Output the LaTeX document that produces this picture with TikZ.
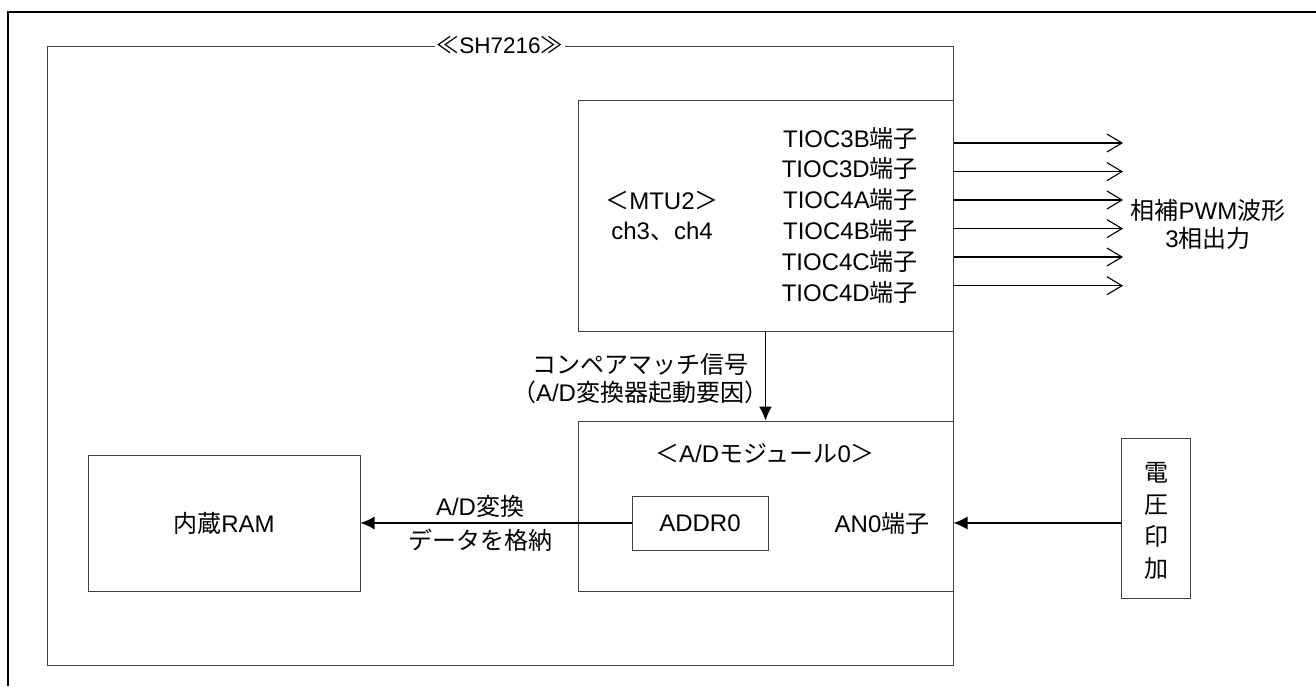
\documentclass[tikz,border=0pt]{standalone}
\usepackage{fontspec}
\setmainfont{Liberation Sans}
\newfontfamily\jp{Noto Sans CJK JP}
\usetikzlibrary{arrows.meta, positioning, calc}
\tikzset{
	frame_line/.style={draw=black, line width=1.8pt},
	blk/.style={rectangle, draw=black!75, line width=1pt, inner sep=0pt},
	lbl/.style={inner sep=0pt, font=\fontsize{24}{28}\selectfont},
	pin_lbl/.style={lbl, anchor=east},
	sig_arrow/.style={-{Latex[length=14pt, width=13pt]}, draw=black, line width=1.2pt},
	pwm_arrow/.style={-{Straight Barb[length=15pt, width=18pt]}, draw=black, line width=1.1pt}
}

\begin{document}
\begin{tikzpicture}[x=1pt, y=-1pt]
	\useasboundingbox (0,0) rectangle (1316,686);
	% outer frame
	\draw[frame_line] (8,686) -- (8,12) -- (1316,12);
	% chip and modules
	\node[blk, minimum width=906pt, minimum height=619pt] (sh) at (500,355.5) {};
	\node[lbl, fill=white, inner xsep=2pt, font=\fontsize{22.5}{28}\selectfont] (sh_title) at (sh.north) {{\jp ≪}SH7216{\jp ≫}};
	\node[blk, minimum width=375pt, minimum height=231pt] (mtu) at (765.5,215.5) {};
	\node[blk, minimum width=375pt, minimum height=170pt] (ad) at (765.5,506) {};
	\node[blk, minimum width=136pt, minimum height=54pt] (addr) at (700,523) {};
	\node[lbl] at (addr) {ADDR0};
	\node[blk, minimum width=272pt, minimum height=136pt] (ram) at (224,523) {};
	\node[lbl] at (ram) {{\jp 内蔵}RAM};
	\node[blk, minimum width=69pt, minimum height=160pt] (volt) at (1156,518) {};
	\node[lbl, align=center, font=\jp\fontsize{24}{32}\selectfont] at (1156,521) {電\\圧\\印\\加};
	% module texts
	\node[lbl, align=center, font=\fontsize{24}{30}\selectfont] (mtu_name) at (662,216) {{\jp ＜}MTU2{\jp ＞}\\ch3{\jp 、}ch4};
	\node[lbl] (ad_name) at (765,453) {{\jp ＜}A/D{\jp モジュール}0{\jp ＞}};
	\node[lbl] (an0) at (882,523) {AN0{\jp 端子}};
	\node[pin_lbl] (p3b) at (918,138) {TIOC3B{\jp 端子}};
	\node[pin_lbl] (p3d) at (918,168.5) {TIOC3D{\jp 端子}};
	\node[pin_lbl] (p4a) at (918,199.5) {TIOC4A{\jp 端子}};
	\node[pin_lbl] (p4b) at (918,230) {TIOC4B{\jp 端子}};
	\node[pin_lbl] (p4c) at (918,261) {TIOC4C{\jp 端子}};
	\node[pin_lbl] (p4d) at (918,292) {TIOC4D{\jp 端子}};
	% PWM outputs
	\coordinate (o3b) at (1123,143);
	\coordinate (o3d) at (1123,171.6);
	\coordinate (o4a) at (1123,200);
	\coordinate (o4b) at (1123,228.6);
	\coordinate (o4c) at (1123,257);
	\coordinate (o4d) at (1123,285.7);
	\draw[pwm_arrow] (mtu.east |- o3b) -- (o3b);
	\draw[pwm_arrow] (mtu.east |- o3d) -- (o3d);
	\draw[pwm_arrow] (mtu.east |- o4a) -- (o4a);
	\draw[pwm_arrow] (mtu.east |- o4b) -- (o4b);
	\draw[pwm_arrow] (mtu.east |- o4c) -- (o4c);
	\draw[pwm_arrow] (mtu.east |- o4d) -- (o4d);
	\node[lbl, align=center] (pwm_out) at (1208,224) {{\jp 相補}PWM{\jp 波形}\\3{\jp 相出力}};
	% signals
	\draw[sig_arrow] (mtu.south) -- (ad.north);
	\node[lbl, align=center, font=\jp\fontsize{24}{28}\selectfont] (cmp) at (640,379) {コンペアマッチ信号\\（{\rmfamily\fontspec{Liberation Sans}A/D}変換器起動要因）};
	\draw[sig_arrow] (addr.west) -- (ram.east);
	\node[lbl, align=center, font=\fontsize{24}{34}\selectfont] (store) at (480,523) {A/D{\jp 変換}\\{\jp データを格納}};
	\draw[sig_arrow] (volt.west |- an0) -- (ad.east |- an0);
\end{tikzpicture}
\end{document}
